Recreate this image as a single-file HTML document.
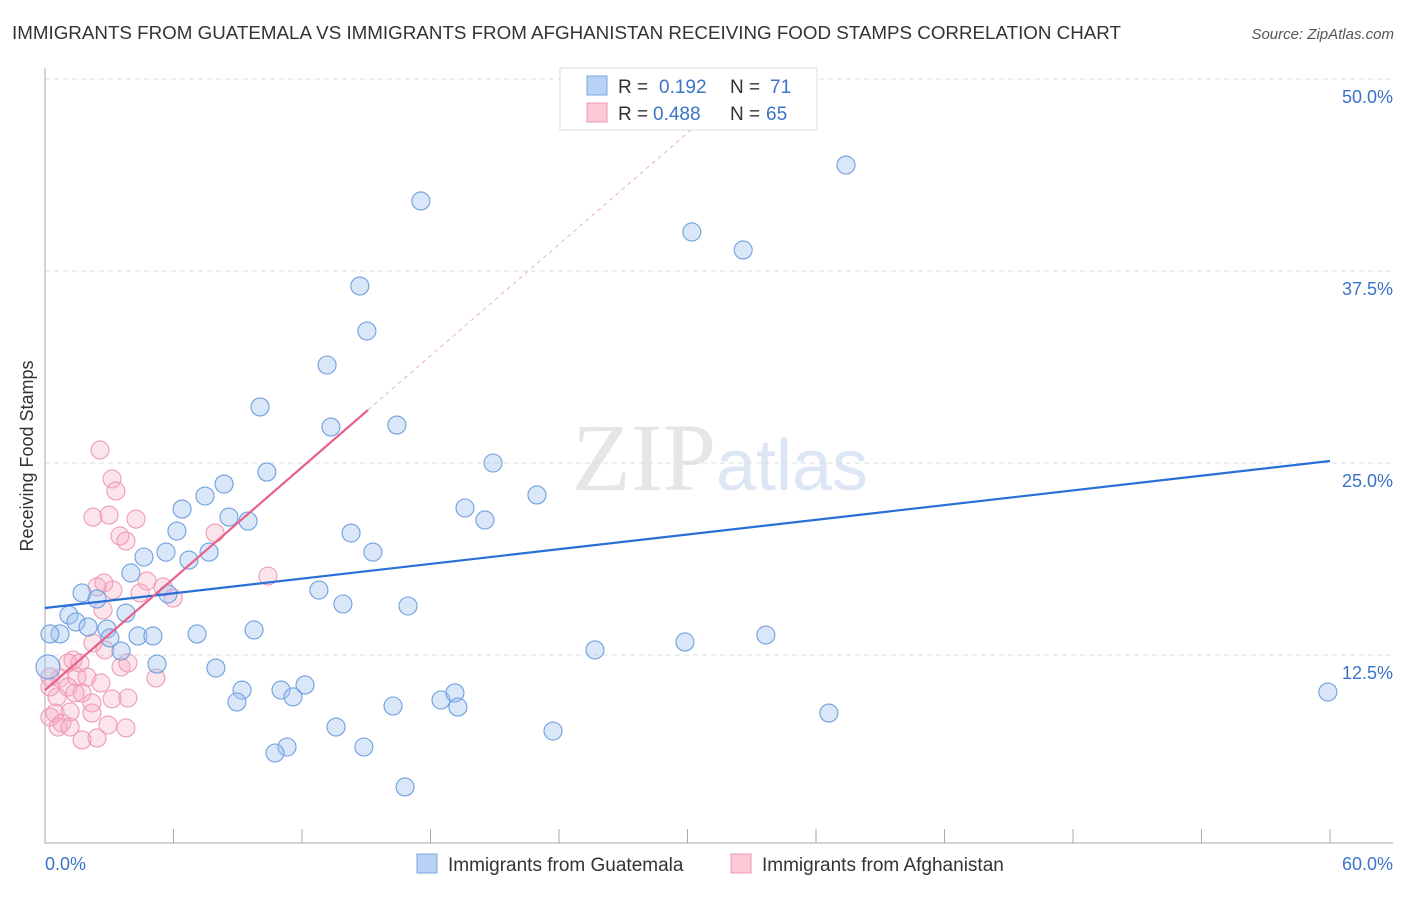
<!DOCTYPE html>
<html><head><meta charset="utf-8"><style>
body{margin:0;background:#fff;font-family:"Liberation Sans",sans-serif}
</style></head><body>
<svg id="chart" width="1406" height="892" xmlns="http://www.w3.org/2000/svg" font-family="Liberation Sans, sans-serif">
<text x="12" y="39" font-size="18" fill="#333" textLength="1109" lengthAdjust="spacingAndGlyphs">IMMIGRANTS FROM GUATEMALA VS IMMIGRANTS FROM AFGHANISTAN RECEIVING FOOD STAMPS CORRELATION CHART</text>
<text x="1394" y="39" font-size="15" fill="#555" text-anchor="end" font-style="italic">Source: ZipAtlas.com</text>
<text x="720" y="490" font-size="96" fill="#e6e6e6" text-anchor="middle" font-family="Liberation Serif, serif">ZIP<tspan fill="#dce6f4" font-family="Liberation Sans, sans-serif" font-size="72">atlas</tspan></text>
<g id="grid"></g>
<g id="axes"></g>
<g id="marks"></g>
<text transform="translate(33,456) rotate(-90)" font-size="18" fill="#333" text-anchor="middle">Receiving Food Stamps</text>
<g>
<rect x="560" y="68" width="257" height="62" fill="#fff" stroke="#ddd"/>
<rect x="587" y="76" width="20" height="19" fill="#b8d2f4" stroke="#7aa6e0"/>
<rect x="587" y="103" width="20" height="19" fill="#fbc8d6" stroke="#ec9ab4"/>
<text x="618" y="93" font-size="19" fill="#333">R = </text><text x="659" y="93" font-size="19" fill="#3b73c9">0.192</text>
<text x="730" y="93" font-size="19" fill="#333">N = </text><text x="770" y="93" font-size="19" fill="#3b73c9">71</text>
<text x="618" y="120" font-size="19" fill="#333">R = </text><text x="653" y="120" font-size="19" fill="#3b73c9">0.488</text>
<text x="730" y="120" font-size="19" fill="#333">N = </text><text x="766" y="120" font-size="19" fill="#3b73c9">65</text>
</g>
<g>
<rect x="417" y="854" width="20" height="19" fill="#b8d2f4" stroke="#7aa6e0"/>
<text x="448" y="871" font-size="19" fill="#333">Immigrants from Guatemala</text>
<rect x="731" y="854" width="20" height="19" fill="#fbc8d6" stroke="#ec9ab4"/>
<text x="762" y="871" font-size="19" fill="#333">Immigrants from Afghanistan</text>
</g>
</svg>
<script>
const blueX=[17.55,37.4,30.2,32.6,14.7,15.03,13.17,10.04,16.43,13.35,20.92,10.36,8.36,7.47,6.40,19.61,22.97,20.54,8.59,9.48,6.16,14.29,5.65,7.66,4.62,6.72,15.31,4.01,12.79,1.73,2.43,13.91,16.95,3.78,1.12,1.45,2.01,2.89,0.70,0.23,3.03,4.34,5.04,7.10,9.76,33.66,29.88,25.68,3.55,5.23,7.98,9.2,11.02,12.14,11.58,8.96,18.49,19.14,19.28,16.25,36.6,59.9,13.59,23.72,11.30,10.74,14.89,16.81,0.14,5.74];
const blueY=[42.06,44.4,40.04,38.87,36.52,33.59,31.38,28.65,27.47,27.34,25.0,24.41,23.63,22.85,22.0,22.07,22.92,21.29,21.48,21.22,20.57,20.44,19.2,19.2,18.88,18.68,19.2,17.84,16.73,16.54,16.15,15.82,15.69,15.23,15.1,14.65,14.32,14.19,13.87,13.87,13.61,13.74,13.74,13.87,14.13,13.8,13.35,12.83,12.76,11.91,11.65,10.22,10.22,10.55,9.77,9.44,9.57,10.03,9.11,9.18,8.72,10.09,7.81,7.55,6.51,6.12,6.51,3.91,11.72,16.47];
const pinkX=[2.57,3.13,3.31,2.24,2.99,4.25,3.50,3.78,7.94,10.41,2.75,2.43,4.76,5.51,4.44,5.98,2.71,2.24,2.80,3.55,5.18,1.31,1.49,1.96,0.70,0.23,1.07,1.73,1.40,0.56,0.23,2.61,3.13,3.87,2.19,1.17,0.47,0.79,0.23,2.19,2.94,3.78,1.73,2.43,0.61,1.17,1.07,1.63,3.17,3.87];
const pinkY=[25.85,23.96,23.18,21.48,21.61,21.35,20.25,19.92,20.44,17.64,17.19,16.93,17.32,16.93,16.54,16.21,15.43,13.28,12.83,11.72,11.0,12.17,11.07,11.07,11.0,11.07,10.42,10.03,10.03,9.77,10.42,10.68,9.64,9.70,9.38,8.79,8.72,8.07,8.46,8.72,7.94,7.75,6.97,7.10,7.81,7.81,11.98,11.98,16.73,11.98];
const blueLine=[15.56,0.1595]; // intercept, slope
const pinkLine=[10.22,1.209];
const pinkSolidEnd=15.08;
const yTicks=[12.5,25,37.5,50];
const yTickLabels=["12.5%","25.0%","37.5%","50.0%"];
const xTicks=[0,6,12,18,24,30,36,42,48,54,60];

const NS="http://www.w3.org/2000/svg";
const X0=45,XS=21.417,Y0=847,YS=15.36;
const sx=v=>X0+v*XS, sy=v=>Y0-v*YS;
function mk(tag,attrs,parent){const e=document.createElementNS(NS,tag);for(const k in attrs)e.setAttribute(k,attrs[k]);document.getElementById(parent).appendChild(e);return e;}
yTicks.forEach((t,i)=>{
 const l=mk('line',{x1:45,x2:1393,y1:sy(t),y2:sy(t),stroke:'#ddd','stroke-dasharray':'5,4'},'grid');
 
 
 const tx=mk('text',{x:1393,y:sy(t)+24,'font-size':18,fill:'#3b73c9','text-anchor':'end'},'axes');
 tx.textContent=yTickLabels[i];
 
 
});
const ax=mk('line',{x1:45,x2:45,y1:68,y2:843,stroke:'#aaa'},'axes');


const bx=mk('line',{x1:45,x2:1393,y1:843,y2:843,stroke:'#aaa'},'axes');


xTicks.forEach(t=>{
 const tk=mk('line',{x1:sx(t),x2:sx(t),y1:829,y2:843,stroke:'#aaa'},'axes');
 
 
});
const xl0=mk('text',{x:45,y:870,'font-size':18,fill:'#3b73c9'},'axes');xl0.textContent='0.0%';


const xl1=mk('text',{x:1393,y:870,'font-size':18,fill:'#3b73c9','text-anchor':'end'},'axes');xl1.textContent='60.0%';



pinkX.forEach((x,i)=>{
 const c=mk('circle',{cx:sx(x),cy:sy(pinkY[i]),r:9,fill:'rgba(246,170,192,0.32)',stroke:'#ee9cb5','stroke-width':1.1},'marks');
 
 
});
blueX.forEach((x,i)=>{
 const c=mk('circle',{cx:sx(x),cy:sy(blueY[i]),r:(i==blueX.length-2?12:9),fill:'rgba(160,196,240,0.4)',stroke:'#6f9fe0','stroke-width':1.1},'marks');
 
 
});
const bl=mk('line',{x1:sx(0),y1:sy(blueLine[0]),x2:sx(60),y2:sy(blueLine[0]+60*blueLine[1]),stroke:'#2a6fd6','stroke-width':2.2},'marks');


const pl=mk('line',{x1:sx(0),y1:sy(pinkLine[0]),x2:sx(pinkSolidEnd),y2:sy(pinkLine[0]+pinkSolidEnd*pinkLine[1]),stroke:'#e8608a','stroke-width':2.2},'marks');


const xEnd=(50.5-pinkLine[0])/pinkLine[1];
const pd=mk('line',{x1:sx(pinkSolidEnd),y1:sy(pinkLine[0]+pinkSolidEnd*pinkLine[1]),x2:sx(xEnd),y2:sy(50.5),stroke:'#eab0c2','stroke-width':1,'stroke-dasharray':'4,4'},'marks');


</script>
</body></html>
